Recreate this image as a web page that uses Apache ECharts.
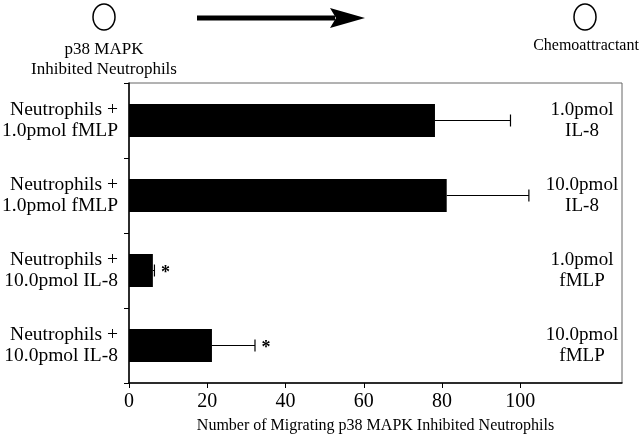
<!DOCTYPE html>
<html>
<head>
<meta charset="utf-8">
<script src="https://cdn.jsdelivr.net/npm/echarts@6/dist/echarts.min.js"></script>
<style>
  html, body { margin: 0; padding: 0; background: #fff; }
  #chart { width: 640px; height: 440px; }
</style>
</head>
<body>
<div id="chart"></div>
<script>
// categories (top to bottom)
const groups = [
  'Neutrophils +\n1.0pmol fMLP',
  'Neutrophils +\n1.0pmol fMLP',
  'Neutrophils +\n10.0pmol IL-8',
  'Neutrophils +\n10.0pmol IL-8',
];
const attractants = ['1.0pmol\nIL-8', '10.0pmol\nIL-8', '1.0pmol\nfMLP', '10.0pmol\nfMLP'];
const migrated = [78.2, 81.2, 6.1, 21.2];
const errors = [19.3, 21.0, 0.4, 11.0];
const significant = [false, false, true, true];
const xTicks = [0, 20, 40, 60, 80, 100];

const font = '"Liberation Serif", "DejaVu Serif", serif';
const chart = echarts.init(document.getElementById('chart'));

const errData = migrated.map((v, i) => [v, i, v + errors[i], significant[i] ? 1 : 0]);

chart.setOption({
  animation: false,
  textStyle: { fontFamily: font, color: '#000' },
  grid: {
    left: 129, right: 18, top: 83, bottom: 57,
    outerBoundsMode: 'none', containLabel: false,
    show: true, borderColor: '#666', borderWidth: 1,
  },
  xAxis: {
    type: 'value', min: 0, max: 126,
    splitLine: { show: false },
    axisLine: { show: true, lineStyle: { color: '#000', width: 1.5 } },
    axisTick: { show: true, customValues: xTicks, length: 5, lineStyle: { color: '#000' } },
    axisLabel: { customValues: xTicks, color: '#000', fontFamily: font, fontSize: 20, margin: 9 },
    name: 'Number of Migrating p38 MAPK Inhibited Neutrophils',
    nameLocation: 'middle', nameGap: 35,
    nameTextStyle: { color: '#000', fontFamily: font, fontSize: 16 },
  },
  yAxis: [
    {
      type: 'category', data: groups, inverse: true,
      axisLine: { show: true, lineStyle: { color: '#000', width: 1.5 } },
      axisTick: { show: true, length: 5, lineStyle: { color: '#000' } },
      axisLabel: { color: '#000', fontFamily: font, fontSize: 19.5, lineHeight: 21, margin: 11, align: 'right' },
    },
    {
      type: 'category', data: attractants, inverse: true, position: 'right',
      axisLine: { show: false }, axisTick: { show: false },
      axisLabel: { inside: true, align: 'center', margin: 40, color: '#000', fontFamily: font, fontSize: 19, lineHeight: 21 },
    },
  ],
  series: [
    {
      type: 'bar', data: migrated, barWidth: '44%',
      itemStyle: { color: '#000' },
    },
    {
      type: 'custom', data: errData,
      renderItem: function (params, api) {
        const start = api.coord([api.value(0), api.value(1)]);
        const end = api.coord([api.value(2), api.value(1)]);
        const children = [
          { type: 'line', shape: { x1: start[0], y1: start[1], x2: end[0], y2: end[1] }, style: { stroke: '#000', lineWidth: 1 } },
          { type: 'line', shape: { x1: end[0], y1: end[1] - 6, x2: end[0], y2: end[1] + 6 }, style: { stroke: '#000', lineWidth: 1.2 } },
        ];
        if (api.value(3)) {
          children.push({
            type: 'text',
            style: { x: end[0] + 11, y: end[1] + 3, text: '*', fontSize: 18, fontWeight: 'bold', fontFamily: font, fill: '#000', align: 'center', verticalAlign: 'middle' },
          });
        }
        return { type: 'group', children: children };
      },
    },
  ],
  graphic: [
    { type: 'ellipse', shape: { cx: 104, cy: 17, rx: 11, ry: 13 }, style: { fill: '#fff', stroke: '#000', lineWidth: 1.5 } },
    { type: 'text', style: { x: 104, y: 50, text: 'p38 MAPK', fontFamily: font, fontSize: 17, fill: '#000', align: 'center', verticalAlign: 'middle' } },
    { type: 'text', style: { x: 104, y: 70, text: 'Inhibited Neutrophils', fontFamily: font, fontSize: 17, fill: '#000', align: 'center', verticalAlign: 'middle' } },
    { type: 'line', shape: { x1: 197, y1: 18, x2: 335, y2: 18 }, style: { stroke: '#000', lineWidth: 5 } },
    { type: 'polygon', shape: { points: [[330, 8], [365, 18], [330, 28], [336, 18]] }, style: { fill: '#000' } },
    { type: 'ellipse', shape: { cx: 585, cy: 17, rx: 11, ry: 13 }, style: { fill: '#fff', stroke: '#000', lineWidth: 1.5 } },
    { type: 'text', style: { x: 586, y: 46, text: 'Chemoattractant', fontFamily: font, fontSize: 16, fill: '#000', align: 'center', verticalAlign: 'middle' } },
  ],
});
</script>
</body>
</html>
